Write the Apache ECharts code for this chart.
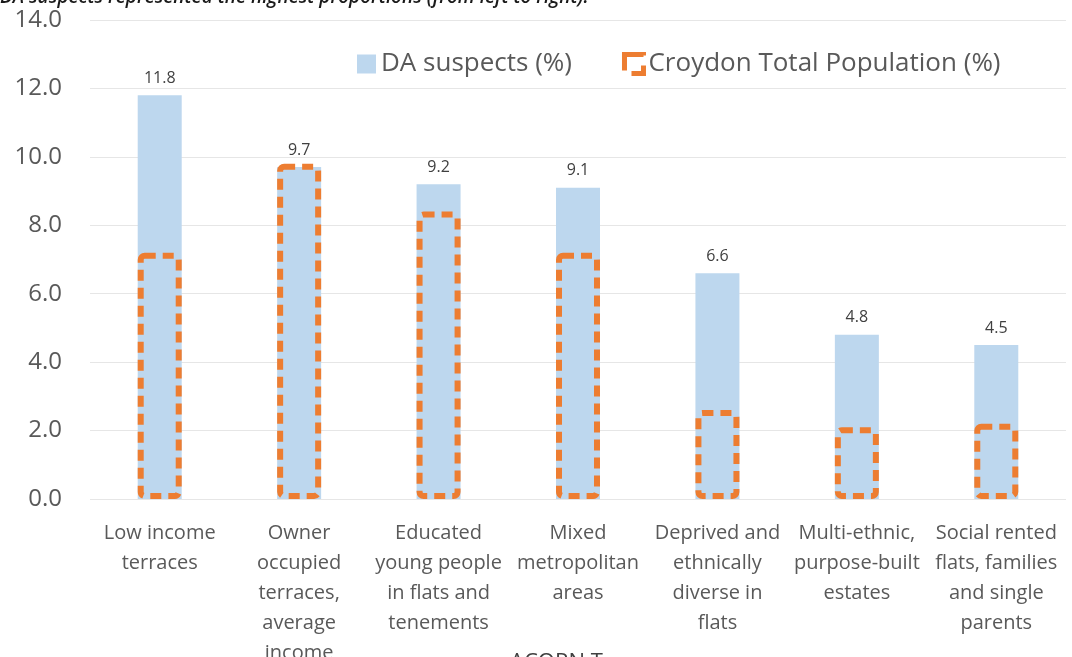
<!DOCTYPE html>
<html>
<head>
<meta charset="utf-8">
<script src="https://cdn.jsdelivr.net/npm/echarts@6/dist/echarts.min.js"></script>
<style>
  html, body { margin: 0; padding: 0; background: #ffffff; }
  #chart { width: 1072px; height: 657px; }
</style>
</head>
<body>
<div id="chart"></div>
<script>
// ACORN types, share of DA suspects vs. Croydon population
const categories = [
  'Low income\nterraces',
  'Owner\noccupied\nterraces,\naverage\nincome',
  'Educated\nyoung people\nin flats and\ntenements',
  'Mixed\nmetropolitan\nareas',
  'Deprived and\nethnically\ndiverse in\nflats',
  'Multi-ethnic,\npurpose-built\nestates',
  'Social rented\nflats, families\nand single\nparents'
];
const daSuspects = [11.8, 9.7, 9.2, 9.1, 6.6, 4.8, 4.5];
const croydonPopulation = [7.2, 9.8, 8.4, 7.2, 2.6, 2.1, 2.2];
const yTicks = { min: 0, max: 14, interval: 2 };

const FONT = '"Open Sans", "Noto Sans", sans-serif';
const TEXT = '#595959';

const chart = echarts.init(document.getElementById('chart'));
chart.setOption({
  backgroundColor: '#ffffff',
  animation: false,
  textStyle: { fontFamily: FONT },
  grid: { left: 90, right: 6, top: 20, bottom: 158, containLabel: false, outerBoundsMode: 'none' },
  legend: {
    left: 352,
    top: 46,
    itemWidth: 19,
    itemHeight: 19,
    itemGap: 50,
    textStyle: { color: TEXT, fontSize: 26, fontFamily: FONT },
    data: [
      { name: 'DA suspects (%)', icon: 'rect' },
      { name: 'Croydon Total Population (%)', icon: 'rect',
        itemStyle: { color: 'transparent', borderColor: '#ED7D31', borderWidth: 5, borderType: 'dashed' } }
    ]
  },
  xAxis: {
    type: 'category',
    data: categories,
    axisLine: { show: false },
    axisTick: { show: false },
    axisLabel: {
      interval: 0,
      color: TEXT,
      fontSize: 20,
      lineHeight: 30,
      margin: 19,
      fontFamily: FONT
    }
  },
  yAxis: {
    type: 'value',
    min: yTicks.min,
    max: yTicks.max,
    interval: yTicks.interval,
    axisLine: { show: false },
    axisTick: { show: false },
    splitLine: { lineStyle: { color: '#e6e6e6', width: 1 } },
    axisLabel: {
      color: TEXT,
      fontSize: 24,
      margin: 28,
      fontFamily: FONT,
      formatter: v => v.toFixed(1)
    }
  },
  series: [
    {
      name: 'DA suspects (%)',
      type: 'bar',
      data: daSuspects,
      barWidth: 44,
      barGap: '-100%',
      itemStyle: { color: '#BDD7EE' },
      label: {
        show: true,
        position: 'top',
        distance: 9,
        color: '#404040',
        fontSize: 16,
        fontFamily: FONT,
        formatter: p => p.value.toFixed(1)
      },
      z: 1
    },
    {
      name: 'Croydon Total Population (%)',
      type: 'bar',
      data: croydonPopulation,
      barWidth: 44,
      barGap: '-100%',
      itemStyle: {
        color: 'transparent',
        borderColor: '#ED7D31',
        borderWidth: 6,
        borderType: [11, 7],
        borderRadius: 4
      },
      z: 2
    }
  ],
  graphic: [
    {
      type: 'text',
      left: 0,
      top: -12,
      style: {
        text: 'DA suspects represented the highest proportions (from left to right).',
        fill: '#1a1a1a',
        font: 'italic 600 19px ' + FONT
      }
    },
    {
      type: 'text',
      left: 510,
      top: 652,
      style: {
        text: 'ACORN Type',
        fill: '#404040',
        font: '22px ' + FONT
      }
    }
  ]
});
</script>
</body>
</html>
